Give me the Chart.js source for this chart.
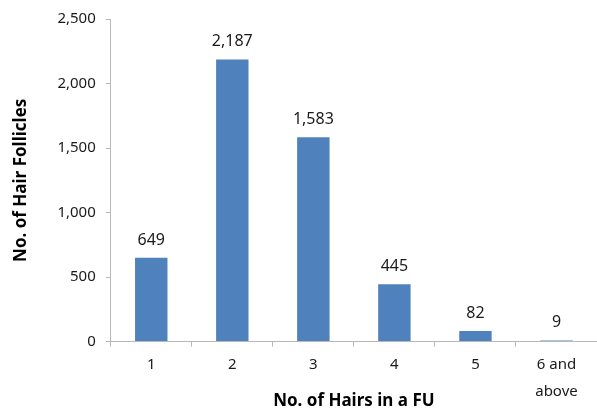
<!DOCTYPE html>
<html>
<head>
<meta charset="utf-8">
<script src="https://cdn.jsdelivr.net/npm/chart.js@4/dist/chart.umd.min.js"></script>
<style>
  html, body { margin: 0; padding: 0; background: #fff; }
  #wrap { width: 597px; height: 415px; position: relative; }
</style>
</head>
<body>
<div id="wrap"><canvas id="c" width="597" height="415"></canvas></div>
<script>
// Hairs per follicular unit and number of follicles
const categories = ["1", "2", "3", "4", "5", ["6 and", "above"]];
const follicleCounts = [649, 2187, 1583, 445, 82, 9];
const yTicks = [0, 500, 1000, 1500, 2000, 2500];

const axisGray = "#b8b8b8";
const textColor = "#1a1a1a";
const barBlue = "#4f81bd";
const fontFamily = "'Noto Sans', sans-serif";

// Writes each bar's value just above it
const valueLabels = {
  id: "valueLabels",
  afterDatasetsDraw(chart) {
    const ctx = chart.ctx;
    const meta = chart.getDatasetMeta(0);
    ctx.save();
    ctx.font = "16px " + fontFamily;
    ctx.fillStyle = textColor;
    ctx.textAlign = "center";
    ctx.textBaseline = "alphabetic";
    meta.data.forEach((bar, i) => {
      ctx.fillText(follicleCounts[i].toLocaleString("en-US"), bar.x, bar.y - 13);
    });
    ctx.restore();
  }
};

new Chart(document.getElementById("c"), {
  type: "bar",
  data: {
    labels: categories,
    datasets: [{
      data: follicleCounts,
      backgroundColor: barBlue,
      borderWidth: 0,
      categoryPercentage: 1,
      barPercentage: 0.4
    }]
  },
  options: {
    responsive: false,
    animation: false,
    layout: { padding: { top: 9, right: -3, bottom: 4, left: 11 } },
    plugins: { legend: { display: false }, tooltip: { enabled: false } },
    scales: {
      x: {
        grid: { display: true, drawOnChartArea: false, drawTicks: true, tickLength: 5, color: axisGray, offset: true },
        border: { display: true, color: axisGray },
        ticks: { color: textColor, font: { family: fontFamily, size: 15, lineHeight: 1.8 }, padding: 5, maxRotation: 0 },
        title: {
          display: true,
          text: "No. of Hairs in a FU",
          color: "#000",
          font: { family: fontFamily, size: 17, weight: "bold" },
          padding: { top: -20, bottom: 0 }
        }
      },
      y: {
        min: 0,
        max: 2500,
        afterBuildTicks(scale) { scale.ticks = yTicks.map(v => ({ value: v })); },
        grid: { display: true, drawOnChartArea: false, drawTicks: true, tickLength: 5, color: axisGray },
        border: { display: true, color: axisGray },
        ticks: {
          color: textColor,
          font: { family: fontFamily, size: 15 },
          padding: 10,
          callback: v => v.toLocaleString("en-US")
        },
        title: {
          display: true,
          text: "No. of Hair Follicles",
          color: "#000",
          font: { family: fontFamily, size: 17, weight: "bold" },
          padding: { top: 0, bottom: 16 }
        }
      }
    }
  },
  plugins: [valueLabels]
});
</script>
</body>
</html>
